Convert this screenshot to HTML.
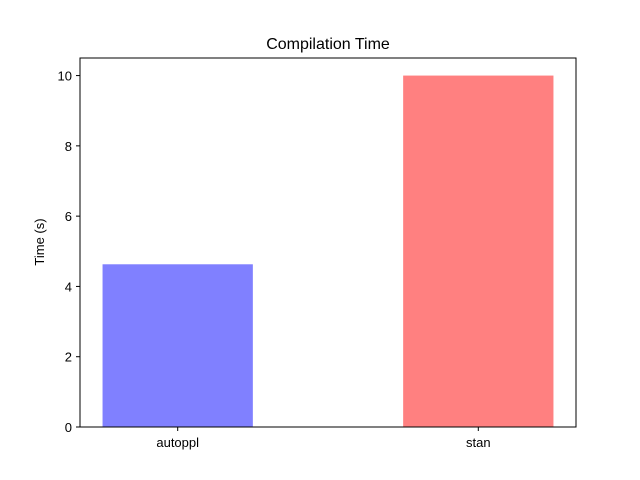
<!DOCTYPE html>
<html><head><meta charset="utf-8"><style>
html,body{margin:0;padding:0;background:#fff;}
svg{display:block;font-family:"Liberation Sans","DejaVu Sans",sans-serif;}
</style></head><body>
<svg id="chart" width="640" height="480" viewBox="0 0 640 480">
<rect width="640" height="480" fill="#fff"/>
<text x="328" y="49" text-anchor="middle" font-size="16">Compilation Time</text>
<g id="bars"></g>
<g id="yticks"></g>
<g id="xticks"></g>
<rect x="80" y="58" width="496" height="369" fill="none" stroke="#000" stroke-width="1"/>
<text transform="translate(44,242) rotate(-90)" text-anchor="middle" font-size="13">Time (s)</text>
</svg>
<script>
const categories = ["autoppl", "stan"];
const values = [4.63, 10.0];
const colors = ["#8080ff", "#ff8080"];
const yTicks = [0, 2, 4, 6, 8, 10];
const ns = "http://www.w3.org/2000/svg";
const L=80,R=576,T=58,B=427;
const xMin=-0.325,xMax=1.325,yMin=0,yMax=10.5;
const xs=v=>L+(v-xMin)/(xMax-xMin)*(R-L);
const ys=v=>B-(v-yMin)/(yMax-yMin)*(B-T);
function mk(tag,attrs,parent){const e=document.createElementNS(ns,tag);for(const k in attrs)e.setAttribute(k,attrs[k]);parent.appendChild(e);return e;}
const bars=document.getElementById('bars'),yt=document.getElementById('yticks'),xt=document.getElementById('xticks');
categories.forEach((c,i)=>{
  const x0=xs(i-0.25),x1=xs(i+0.25);
  const r=mk('rect',{x:x0,y:ys(values[i]),width:x1-x0,height:ys(0)-ys(values[i]),fill:colors[i]},bars);
  
  
  const t=mk('line',{x1:xs(i),x2:xs(i),y1:B,y2:B+4,stroke:'#000'},xt);
  
  
  const l=mk('text',{x:xs(i),y:B+20,'text-anchor':'middle','font-size':13},xt);
  l.textContent=c;
  
  
});
yTicks.forEach(v=>{
  const t=mk('line',{x1:L-4,x2:L,y1:ys(v),y2:ys(v),stroke:'#000'},yt);
  
  
  const l=mk('text',{x:L-8,y:ys(v)+5,'text-anchor':'end','font-size':13},yt);
  l.textContent=v;
  
  
});
</script>
</body></html>
